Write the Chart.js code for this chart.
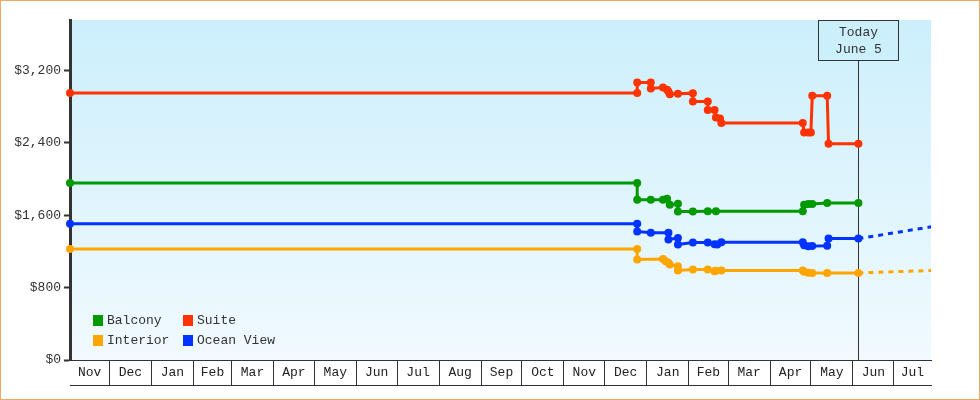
<!DOCTYPE html>
<html><head><meta charset="utf-8">
<script src="https://cdn.jsdelivr.net/npm/chart.js@4.4.1/dist/chart.umd.min.js"></script>
<style>html,body{margin:0;padding:0;background:#fff;}canvas{display:block;}</style>
</head><body>
<canvas id="c" width="980" height="400"></canvas>
<script>
// ---- data ----
const monthLabels = ['Nov','Dec','Jan','Feb','Mar','Apr','May','Jun','Jul','Aug','Sep','Oct','Nov','Dec','Jan','Feb','Mar','Apr','May','Jun','Jul'];
const firstMonthYear = 2022, firstMonthIndex = 10; // Nov 2022
const axisStart = '2022-11-02';
const axisEnd = '2024-07-28T12:00:00Z';
const todayDate = '2024-06-05';
const todayText = ['Today', 'June 5'];
const yTickValues = [0, 800, 1600, 2400, 3200];
const yMax = 3756;

const balconyDates = ['2022-11-02','2023-12-25','2023-12-25','2024-01-04','2024-01-13','2024-01-16','2024-01-18','2024-01-24','2024-01-24','2024-02-04','2024-02-15','2024-02-21','2024-04-25','2024-04-26','2024-04-29','2024-05-02','2024-05-13','2024-06-05'];
const balconyValues = [1955,1955,1770,1770,1770,1780,1715,1725,1640,1640,1642,1642,1642,1716,1724,1724,1735,1735];

const suiteDates = ['2022-11-02','2023-12-25','2023-12-25','2024-01-04','2024-01-04','2024-01-13','2024-01-16','2024-01-17','2024-01-18','2024-01-24','2024-02-04','2024-02-04','2024-02-15','2024-02-15','2024-02-20','2024-02-21','2024-02-24','2024-02-25','2024-04-25','2024-04-26','2024-04-29','2024-05-01','2024-05-02','2024-05-13','2024-05-14','2024-06-05'];
const suiteValues = [2950,2950,3065,3065,3000,3010,2985,2965,2937,2940,2948,2855,2855,2762,2762,2680,2668,2617,2617,2514,2514,2514,2919,2919,2389,2389];

const interiorDates = ['2022-11-02','2023-12-25','2023-12-25','2024-01-13','2024-01-15','2024-01-17','2024-01-18','2024-01-24','2024-01-24','2024-02-04','2024-02-15','2024-02-20','2024-02-21','2024-02-25','2024-04-25','2024-04-26','2024-04-29','2024-05-02','2024-05-13','2024-06-05'];
const interiorValues = [1227,1227,1110,1115,1090,1073,1054,1035,990,1000,1000,980,985,990,990,975,965,962,962,962];

const oceanDates = ['2022-11-02','2023-12-25','2023-12-25','2024-01-04','2024-01-17','2024-01-17','2024-01-24','2024-01-24','2024-02-04','2024-02-15','2024-02-20','2024-02-22','2024-02-25','2024-04-25','2024-04-26','2024-04-29','2024-05-02','2024-05-13','2024-05-14','2024-06-05'];
const oceanValues = [1505,1505,1420,1405,1405,1332,1348,1275,1298,1298,1278,1275,1300,1300,1268,1256,1258,1263,1341,1341];

const oceanProjDates = ['2024-06-05','2024-07-28T12:00:00Z'];
const oceanProjValues = [1341,1471];
const interiorProjDates = ['2024-06-05','2024-07-28T12:00:00Z'];
const interiorProjValues = [962,989];

const colors = {Balcony:'#009900', Suite:'#ff3300', Interior:'#ffa500', 'Ocean View':'#0033ff'};

// ---- build ----
const FONT = '"Liberation Mono", "DejaVu Sans Mono", monospace';
Chart.defaults.font.family = FONT;
Chart.defaults.font.size = 13;
Chart.defaults.color = '#333';

function pts(dates, values){ return dates.map((d,i)=>({x:Date.parse(d), y:values[i]})); }
function series(name, dates, values){
  const c = colors[name];
  return {label:name, data:pts(dates, values), borderColor:c, backgroundColor:c,
    pointBackgroundColor:c, pointBorderColor:c, pointBorderWidth:0, pointRadius:4, pointHoverRadius:4,
    borderWidth:3, tension:0, clip:false, isSeries:true};
}
function projection(name, dates, values){
  const c = colors[name];
  return {label:name + ' projection', data:pts(dates, values), borderColor:c, backgroundColor:c,
    borderDash:[5,5], pointRadius:0, pointHoverRadius:0, borderWidth:3, tension:0, clip:false, isSeries:false};
}

const datasets = [
  series('Balcony', balconyDates, balconyValues),
  series('Suite', suiteDates, suiteValues),
  series('Interior', interiorDates, interiorValues),
  series('Ocean View', oceanDates, oceanValues),
  projection('Ocean View', oceanProjDates, oceanProjValues),
  projection('Interior', interiorProjDates, interiorProjValues)
];

function monthStart(i){ return Date.UTC(firstMonthYear, firstMonthIndex + i, 1); }

const decor = {
  id:'decor',
  beforeDraw(chart){
    const {ctx, chartArea:a} = chart;
    ctx.save();
    const g = ctx.createLinearGradient(0, a.top, 0, a.bottom);
    g.addColorStop(0, '#ccEFFC');
    g.addColorStop(1, '#f1fafe');
    ctx.fillStyle = g;
    ctx.fillRect(a.left, a.top, a.right - a.left, a.bottom - a.top);
    ctx.restore();
  },
  beforeDatasetsDraw(chart){
    const {ctx, chartArea:a} = chart;
    const x = Math.round(chart.scales.x.getPixelForValue(Date.parse(todayDate))) + 0.5;
    ctx.save();
    ctx.strokeStyle = '#333'; ctx.lineWidth = 1;
    ctx.beginPath(); ctx.moveTo(x, a.top + 40); ctx.lineTo(x, a.bottom); ctx.stroke();
    ctx.restore();
  },
  afterDraw(chart){
    const {ctx, chartArea:a} = chart;
    ctx.save();
    // today box
    const x = Math.round(chart.scales.x.getPixelForValue(Date.parse(todayDate))) + 0.5;
    const bw = 80, bh = 40;
    ctx.fillStyle = '#ccEFFC';
    ctx.fillRect(x - bw/2, a.top, bw, bh);
    ctx.strokeStyle = '#333'; ctx.lineWidth = 1;
    ctx.strokeRect(x - bw/2, a.top + 0.5, bw, bh);
    ctx.fillStyle = '#333';
    ctx.font = '13px ' + FONT;
    ctx.textAlign = 'center'; ctx.textBaseline = 'middle';
    ctx.fillText(todayText[0], x, a.top + 12.5);
    ctx.fillText(todayText[1], x, a.top + 30);
    // legend
    ctx.textAlign = 'left';
    const items = chart.data.datasets.filter(d => d.isSeries);
    const lx0 = a.left + 23, ly0 = a.bottom - 45, colW = 90, rowH = 20;
    items.forEach((d, i) => {
      const col = i % 2, row = Math.floor(i / 2);
      const bx = lx0 + col * colW, by = ly0 + row * rowH;
      ctx.fillStyle = d.borderColor;
      ctx.fillRect(bx, by, 10, 11);
      ctx.fillStyle = '#333';
      ctx.fillText(d.label, bx + 14, by + 6);
    });
    // outer border
    ctx.strokeStyle = '#e9aa66'; ctx.lineWidth = 1;
    ctx.strokeRect(0.5, 0.5, chart.width - 1, chart.height - 1);
    ctx.restore();
  }
};

new Chart(document.getElementById('c'), {
  type:'line',
  data:{datasets},
  plugins:[decor],
  options:{
    responsive:false, animation:false,
    layout:{padding:{top:20, right:49, bottom:15, left:0}},
    plugins:{legend:{display:false}, tooltip:{enabled:false}},
    scales:{
      x:{
        type:'linear', position:'bottom', bounds:'data',
        min:Date.parse(axisStart), max:Date.parse(axisEnd),
        afterBuildTicks(scale){
          const min = scale.min, max = scale.max, ticks = [];
          for (let i = 0; i < monthLabels.length; i++){
            const s = monthStart(i), e = monthStart(i + 1);
            if (s > min && s < max) ticks.push({value:s, boundary:true, lab:''});
            const lo = Math.max(s, min), hi = Math.min(e, max);
            ticks.push({value:(lo + hi) / 2, boundary:false, lab:monthLabels[i]});
          }
          ticks.sort((p, q) => p.value - q.value);
          scale.ticks = ticks;
        },
        afterFit(scale){ scale.height = 25; },
        ticks:{autoSkip:false, maxRotation:0, minRotation:0, padding:-20, color:'#222',
          callback:(v, i, ticks) => ticks[i].lab},
        grid:{drawOnChartArea:false, drawTicks:true, tickLength:25, lineWidth:1, tickWidth:1,
          tickColor:(ctx) => (ctx.tick && ctx.tick.boundary) ? '#333' : 'rgba(0,0,0,0)'},
        border:{display:true, color:'#333', width:1}
      },
      xb:{
        type:'linear', position:'bottom', bounds:'data',
        min:Date.parse(axisStart), max:Date.parse(axisEnd),
        afterBuildTicks(scale){ scale.ticks = []; },
        afterFit(scale){ scale.height = 0; },
        ticks:{display:false},
        grid:{display:false, drawTicks:false},
        border:{display:true, color:'#333', width:1}
      },
      y:{
        type:'linear', position:'left', bounds:'data', min:0, max:yMax,
        afterBuildTicks(scale){ scale.ticks = yTickValues.map(v => ({value:v})); },
        afterFit(scale){ scale.width = 70; },
        ticks:{color:'#333', padding:3,
          callback:(v) => '$' + Number(v).toLocaleString('en-US')},
        grid:{drawOnChartArea:false, drawTicks:true, tickLength:6, tickWidth:2, tickColor:'#333'},
        border:{display:true, color:'#333', width:3}
      }
    }
  }
});
</script>
</body></html>
